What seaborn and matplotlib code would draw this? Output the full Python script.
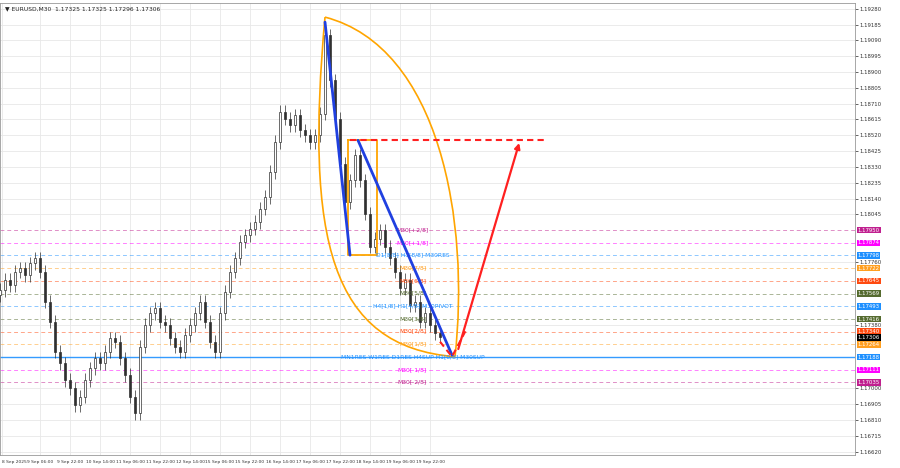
import numpy as np
import matplotlib
matplotlib.use("Agg")
import matplotlib.pyplot as plt
from matplotlib.path import Path
from matplotlib.patches import PathPatch
import seaborn as sns

# closes, one bar every 5 px of the reference (bar index)
closes = [1.1759, 1.1765, 1.1762, 1.1770, 1.1772, 1.1768, 1.1775, 1.1778, 1.1770, 1.1752,
          1.1740, 1.1722, 1.1715, 1.1705, 1.1700, 1.1690, 1.1695, 1.1705, 1.1712, 1.1718,
          1.1715, 1.1722, 1.1730, 1.1728, 1.1718, 1.1708, 1.1695, 1.1685, 1.1725, 1.1738,
          1.1745, 1.1748, 1.1740, 1.1738, 1.1730, 1.1725, 1.1722, 1.1732, 1.1738, 1.1745,
          1.1752, 1.1740, 1.1728, 1.1722, 1.1745, 1.1758, 1.1770, 1.1778, 1.1788, 1.1792,
          1.1796, 1.1800, 1.1808, 1.1815, 1.1830, 1.1848, 1.1866, 1.1862, 1.1858, 1.1864,
          1.1855, 1.1852, 1.1848, 1.1852, 1.1865, 1.1912, 1.1885, 1.1862, 1.1835, 1.1812,
          1.1825, 1.1840, 1.1825, 1.1805, 1.1785, 1.1790, 1.1795, 1.1785, 1.1778, 1.1770,
          1.1760, 1.1765, 1.1750, 1.1752, 1.1740, 1.1745, 1.1738, 1.1733, 1.1731]
opens = [1.1756] + closes[:-1]

# horizontal levels: price, colour, label in chart
level_prices = [1.17950, 1.17874, 1.17798, 1.17722, 1.17645, 1.17569, 1.17493,
                1.17416, 1.17340, 1.17264, 1.17188, 1.17111, 1.17035]
level_colors = ["#c0208f", "#ff00ff", "#1e90ff", "#ff9f20", "#ff4a10", "#556b2f", "#1e90ff",
                "#556b2f", "#ff4a10", "#ff9f20", "#1e90ff", "#ff00ff", "#c0208f"]
level_texts = ["M30[+2/8]", "M30[+1/8]", "D1[8/8] H1[8/8] M30RES", "M30[7/8]", "M30[6/8]",
               "M30[5/8]", "H4[1/8] H1[4/8] M30PIVOT", "M30[3/8]", "M30[2/8]", "M30[1/8]",
               "MN1RES W1RES D1RES H4SUP H1[0/8] M30SUP", "M30[-1/8]", "M30[-2/8]"]
current_price = 1.17306

tick_prices = [1.19280, 1.19185, 1.19090, 1.18995, 1.18900, 1.18805, 1.18710, 1.18615,
               1.18520, 1.18425, 1.18330, 1.18235, 1.18140, 1.18045, 1.17760,
               1.17380, 1.17000, 1.16905, 1.16810, 1.16715, 1.16620]
time_pos = [0.3, 8, 14, 20, 26, 32, 38, 44, 50, 56, 62, 68, 74, 80, 86]
time_labels = ["8 Sep 2025", "9 Sep 06:00", "9 Sep 22:00", "10 Sep 14:00", "11 Sep 06:00",
               "11 Sep 22:00", "12 Sep 14:00", "15 Sep 06:00", "15 Sep 22:00", "16 Sep 14:00",
               "17 Sep 06:00", "17 Sep 22:00", "18 Sep 14:00", "19 Sep 06:00", "19 Sep 22:00"]

# arc outline: start, two controls, end (bar index, price)
arc_left = [(65, 1.1923), (61, 1.1790), (66, 1.1725), (91, 1.1719)]
arc_right = [(65, 1.1923), (88, 1.1905), (94, 1.1800), (91, 1.1719)]

sns.set_theme(style="white")
plt.rcParams['font.family'] = ['DejaVu Sans']
fig = plt.figure(figsize=(9, 4.68), dpi=100)
ax = fig.add_axes([0.0, 0.028, 0.95, 0.966])
ax.set_facecolor("white")

x = np.arange(len(closes))
o = np.array(opens); c = np.array(closes)
hi = np.maximum(o, c) + 0.0004
lo = np.minimum(o, c) - 0.0004
ax.vlines(x, lo, hi, color="#303030", lw=0.5, zorder=3)
up = c >= o
ax.bar(x[up], (c - o)[up], bottom=o[up], width=0.45, color="white", edgecolor="#303030", lw=0.5, zorder=4)
ax.bar(x[~up], (o - c)[~up], bottom=c[~up], width=0.45, color="#303030", edgecolor="#303030", lw=0.5, zorder=4)

for p, col, txt in zip(level_prices, level_colors, level_texts):
    solid = txt.startswith("MN1")
    ax.axhline(p, color=col, lw=1.0 if solid else 0.7, alpha=0.9 if solid else 0.5,
               ls="-" if solid else (0, (4, 3)), zorder=1)
    ax.text(82.5, p + 0.00003, txt, color=col, fontsize=4.3,
            ha="center", va="center", zorder=6)
    ax.text(1.003, p, f"{p:.5f}", transform=ax.get_yaxis_transform(), color="white",
            fontsize=3.9, va="center", ha="left",
            bbox=dict(boxstyle="square,pad=0.15", fc=col, ec="none"), clip_on=False)
ax.text(1.003, current_price, f"{current_price:.5f}", transform=ax.get_yaxis_transform(),
        color="white", fontsize=3.9, va="center", ha="left",
        bbox=dict(boxstyle="square,pad=0.15", fc="black", ec="none"), clip_on=False)

# drawings
curve = [Path.MOVETO, Path.CURVE4, Path.CURVE4, Path.CURVE4]
for pts in (arc_left, arc_right):
    ax.add_patch(PathPatch(Path(pts, curve), fc="none", ec="#ffa500", lw=1.2, zorder=5))
ax.plot([69.6, 75.4, 75.4, 69.6, 69.6], [1.1849, 1.1849, 1.1780, 1.1780, 1.1849], color="#ffa500", lw=1.3, zorder=5)
ax.plot([65, 70], [1.1920, 1.1780], color="#2040e0", lw=2, zorder=6)
ax.plot([71.6, 90.4], [1.1849, 1.1720], color="#2040e0", lw=2, zorder=6)
ax.plot([70, 109], [1.1849, 1.1849], color="#ff2020", lw=1.5, ls=(0, (3, 2)), zorder=6)
ax.plot([88, 90.4, 93.2], [1.1728, 1.1719, 1.1735], color="#ff2020", lw=1.5, ls=(0, (3, 2)), zorder=6)
ax.annotate("", xy=(104, 1.1849), xytext=(91.5, 1.1722),
            arrowprops=dict(arrowstyle="-|>", color="#ff2020", lw=1.6, mutation_scale=8), zorder=6)

ax.set_xlim(0, 171)
ax.set_ylim(1.16600, 1.19316)
ax.set_yticks(tick_prices)
ax.set_yticklabels([f"{t:.5f}" for t in tick_prices], fontsize=3.9, color="#333333")
ax.yaxis.tick_right()
ax.set_xticks(time_pos)
ax.set_xticklabels(time_labels, fontsize=3.2, color="#333333")
ax.get_xticklabels()[0].set_horizontalalignment("left")
ax.tick_params(length=2, pad=1.5, width=0.5)
ax.grid(True, color="#e8e8e8", lw=0.6)
for s in ax.spines.values():
    s.set_color("#999999"); s.set_linewidth(0.6)
ax.text(0.006, 0.992, "▼ EURUSD,M30  1.17325 1.17325 1.17296 1.17306", transform=ax.transAxes,
        fontsize=4.3, va="top", color="#222222")

fig.savefig("out.png", dpi=100)
